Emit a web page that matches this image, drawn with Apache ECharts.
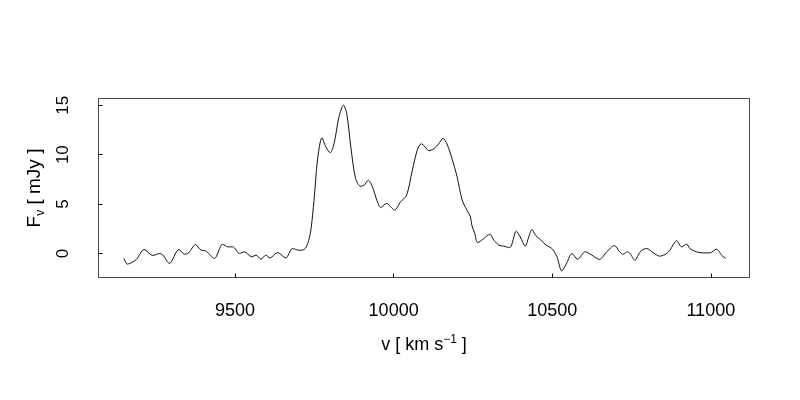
<!DOCTYPE html>
<html>
<head>
<meta charset="utf-8">
<script src="https://cdn.jsdelivr.net/npm/echarts@6/dist/echarts.min.js"></script>
<style>
html,body{margin:0;padding:0;background:#fff;}
#chart{width:800px;height:400px;}
</style>
</head>
<body>
<div id="chart"></div>
<script>
const velocity = [9150,9160,9189,9213,9241,9262,9273,9293,9323,9341,9354,9375,9393,9407,9435,9461,9477,9493,9514,9529,9553,9566,9582,9597,9610,9634,9660,9681,9702,9718,9729,9739,9749,9760,9774,9786,9800,9812,9828,9842,9852,9865,9880,9896,9907,9920,9933,9947,9959,9978,9991,10003,10022,10041,10059,10075,10087,10099,10111,10127,10142,10156,10168,10184,10200,10216,10231,10242,10247,10256,10265,10284,10303,10316,10332,10347,10366,10387,10399,10415,10426,10436,10447,10462,10481,10499,10515,10530,10546,10562,10580,10604,10625,10649,10672,10696,10712,10724,10737,10745,10761,10771,10782,10798,10819,10840,10861,10871,10892,10908,10924,10934,10955,10976,10997,11018,11034,11047];
const flux = [-0.5,-1.08,-0.6,0.4,-0.2,0,-0.17,-1.0,0.4,-0.07,0.07,0.9,0.33,0.27,-0.5,0.94,0.67,0.67,0,0.17,-0.34,-0.17,-0.58,-0.17,-0.45,0.1,-0.45,0.5,0.33,0.4,1.0,2.36,5.4,9.45,11.7,10.8,10.2,11.1,13.85,15.0,14.2,10.8,7.6,6.8,6.9,7.4,6.75,5.4,4.66,5.07,4.72,4.39,5.23,5.9,8.44,10.5,11.1,10.8,10.4,10.6,11.1,11.65,11.1,9.6,7.76,5.4,4.39,3.7,2.8,2.0,1.1,1.5,1.95,1.35,0.84,0.74,0.6,2.26,1.68,0.74,1.68,2.43,1.85,1.42,0.84,0.5,-0.34,-1.76,-0.95,0,-0.58,0.17,-0.17,-0.6,0.17,0.8,0.2,-0.07,0.17,0,-0.68,-0.17,0.33,0.5,0.06,-0.27,0,0.33,1.28,0.67,0.94,0.5,0.17,0.06,0.06,0.44,-0.17,-0.5];
const xTicks = [9500, 10000, 10500, 11000];
const yTicks = [0, 5, 10, 15];

const seriesData = velocity.map((v, i) => [v, flux[i]]);
const FONT = "'Liberation Sans', Arial, sans-serif";

const chart = echarts.init(document.getElementById('chart'), null, {renderer: 'canvas'});
chart.setOption({
  animation: false,
  backgroundColor: '#ffffff',
  grid: {
    left: 98.5, top: 98.5, width: 651, height: 179,
    show: true, borderColor: '#444', borderWidth: 1, backgroundColor: 'transparent'
  },
  xAxis: {
    type: 'value', min: 9069.5, max: 11122,
    splitLine: {show: false},
    axisLine: {show: false, onZero: false},
    axisTick: {show: true, inside: true, length: 4, customValues: xTicks, lineStyle: {color: '#000'}},
    axisLabel: {customValues: xTicks, fontSize: 18, color: '#000', fontFamily: FONT, margin: 25,
      formatter: v => String(v)},
    name: '{a|v [ km s}{p|\u22121}{a| ]}',
    nameLocation: 'middle',
    nameGap: 56,
    nameTextStyle: {
      fontFamily: FONT, color: '#000',
      rich: {
        a: {fontSize: 18, fontFamily: FONT, color: '#000', lineHeight: 24, verticalAlign: 'middle'},
        p: {fontSize: 12, fontFamily: FONT, color: '#000', lineHeight: 24, verticalAlign: 'top'}
      }
    }
  },
  yAxis: {
    type: 'value', min: -2.43, max: 15.68,
    splitLine: {show: false},
    axisLine: {show: false, onZero: false},
    axisTick: {show: true, inside: true, length: 4, customValues: yTicks, lineStyle: {color: '#000'}},
    axisLabel: {customValues: yTicks, fontSize: 17, color: '#000', fontFamily: FONT, rotate: 90, margin: 27,
      formatter: v => String(v)},
    name: '{a|F}{s|v}{a| [ mJy ]}',
    nameLocation: 'middle',
    nameRotate: 90,
    nameGap: 52,
    nameTextStyle: {
      fontFamily: FONT, color: '#000',
      rich: {
        a: {fontSize: 19, fontFamily: FONT, color: '#000', lineHeight: 24, verticalAlign: 'middle'},
        s: {fontSize: 12, fontFamily: FONT, color: '#000', lineHeight: 24, verticalAlign: 'bottom'}
      }
    }
  },
  series: [{
    type: 'line',
    data: seriesData,
    showSymbol: false,
    smooth: 0.3,
    lineStyle: {color: '#111', width: 1},
    silent: true
  }]
});
</script>
</body>
</html>
